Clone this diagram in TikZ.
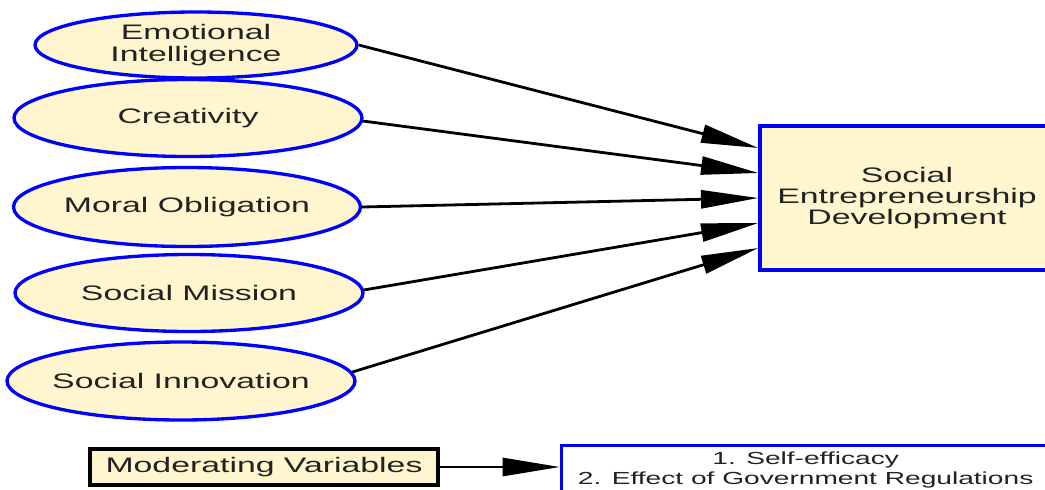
\documentclass[tikz,border=0pt]{standalone}
\usepackage{fontspec}
\setmainfont{Liberation Sans}[FakeStretch=1.61]
\usetikzlibrary{shapes.geometric,arrows.meta}
\definecolor{boxfill}{RGB}{255,245,206}
\definecolor{txt}{RGB}{34,34,34}
\tikzset{
  ell/.style={ellipse, draw=blue, line width=2.5pt, fill=boxfill, inner sep=0pt},
  elltext/.style={text=txt, align=center, font=\fontsize{15.75}{16.5}\selectfont, inner sep=0pt},
  arr/.style={-{Triangle[length=43pt,width=13.5pt]}, line width=2.1pt, black},
}
\begin{document}
\begin{tikzpicture}[x=0.75pt,y=-0.75pt]
\useasboundingbox (0,0) rectangle (1045,489);
\clip (0,0) rectangle (1045,489);
% ellipses
\node[ell, minimum width=241.5pt, minimum height=49.5pt] (ei) at (196,45) {};
\node[elltext] (eit) at (ei) {Emotional\\Intelligence};
\node[ell, minimum width=261pt, minimum height=57.75pt] (cr) at (188,118) {};
\node[elltext] (crt) at (cr) {Creativity};
\node[ell, minimum width=260.25pt, minimum height=59.25pt] (mo) at (187,207) {};
\node[elltext] (mot) at (mo) {Moral Obligation};
\node[ell, minimum width=261pt, minimum height=57.75pt] (sm) at (189,293) {};
\node[elltext] (smt) at (sm) {Social Mission};
\node[ell, minimum width=261pt, minimum height=58.5pt] (si) at (181,381) {};
\node[elltext] (sit) at (si) {Social Innovation};
% target box
\node[draw=blue, line width=2.5pt, fill=boxfill, minimum width=220.5pt, minimum height=108pt,
      text=txt, align=center, font=\fontsize{15.75}{15.75}\selectfont] (sed) at (907,198)
      {Social\\Entrepreneurship\\Development};
% arrows
\draw[arr] (ei.east) -- ([yshift=37.5pt]sed.west);
\draw[arr] (cr.-1) -- ([yshift=18.75pt]sed.west);
\draw[arr] (mo.east) -- (sed.west);
\draw[arr] (sm.1) -- ([yshift=-18.75pt]sed.west);
\draw[arr] (si.3) -- ([yshift=-37.5pt]sed.west);
% moderating
\node[draw=black, line width=2.5pt, fill=boxfill, minimum width=261pt, minimum height=27pt,
      inner sep=0pt, text=txt, font=\fontsize{15.75}{16.5}\selectfont] (mv) at (264,467) {Moderating Variables};
\node[draw=blue, line width=2.5pt, fill=white, anchor=north west, minimum width=366pt,
      inner xsep=0pt, inner ysep=4.5pt, text=txt, align=center,
      font=\fontsize{13.1}{15}\selectfont] (mod) at (560,444)
      {1. Self-efficacy\\2. Effect of Government Regulations};
\draw[arr] (mv.east) -- (mv.east -| mod.west);
\end{tikzpicture}
\end{document}
